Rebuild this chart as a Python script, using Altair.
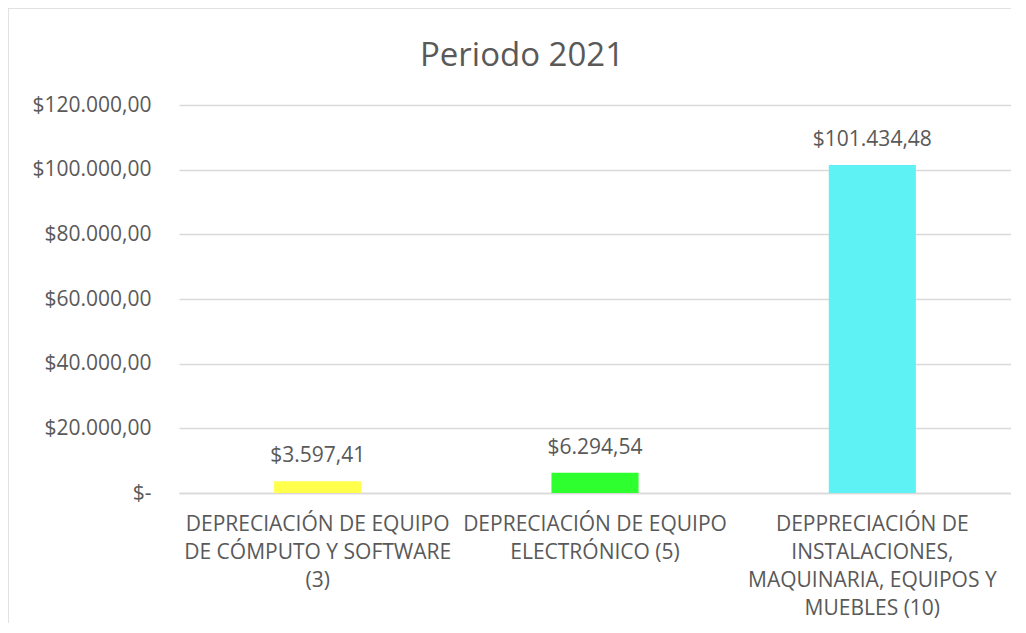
import altair as alt
import pandas as pd

categories = [
    "DEPRECIACIÓN DE EQUIPO|DE CÓMPUTO Y SOFTWARE|(3)",
    "DEPRECIACIÓN DE EQUIPO|ELECTRÓNICO (5)",
    "DEPPRECIACIÓN DE|INSTALACIONES,|MAQUINARIA, EQUIPOS Y|MUEBLES (10)",
]
values = [3597.41, 6294.54, 101434.48]
colors = ["#FFFF4C", "#2EFF2E", "#5EF2F5"]
y_ticks = [0, 20000, 40000, 60000, 80000, 100000, 120000]

FONT = "'Open Sans', sans-serif"
TXT = "#595959"

df = pd.DataFrame({"cat": categories, "value": values, "color": colors})

fmt = "'$' + replace(replace(replace(format({v}, ',.2f'), ',', '_'), '.', ','), '_', '.')"

base = alt.Chart(df).transform_calculate(
    label=fmt.format(v="datum.value")
)

x_enc = alt.X(
    "cat:N",
    sort=categories,
    title=None,
    scale=alt.Scale(paddingInner=0.686, paddingOuter=0.343),
    axis=alt.Axis(
        labelExpr="split(datum.label, '|')",
        labelAngle=0,
        labelFont=FONT,
        labelFontSize=21,
        labelColor=TXT,
        labelLineHeight=28,
        labelPadding=20,
        labelBaseline="top",
        labelLimit=400,
        ticks=False,
        domainColor="#D9D9D9",
        domainWidth=1.5,
        grid=False,
    ),
)

y_enc = alt.Y(
    "value:Q",
    title=None,
    scale=alt.Scale(domain=[0, 120000], nice=False),
    axis=alt.Axis(
        values=y_ticks,
        labelExpr="datum.value == 0 ? '$-' : " + fmt.format(v="datum.value"),
        labelFont=FONT,
        labelFontSize=21,
        labelColor=TXT,
        labelPadding=28,
        ticks=False,
        domain=False,
        grid=True,
        gridColor="#D9D9D9",
        gridWidth=1.5,
    ),
)

bars = base.mark_bar().encode(
    x=x_enc,
    y=y_enc,
    color=alt.Color("color:N", scale=None, legend=None),
)

text = base.mark_text(
    font=FONT, fontSize=21, color=TXT, baseline="alphabetic", dy=-19
).encode(
    x=alt.X("cat:N", sort=categories),
    y="value:Q",
    text="label:N",
)

border = alt.Chart(pd.DataFrame({"a": [0]})).mark_rect(
    fillOpacity=0, stroke="#D9D9D9", strokeWidth=1.5
).encode(
    x=alt.value(-171), x2=alt.value(880), y=alt.value(-97), y2=alt.value(580)
)

chart = alt.layer(border, bars, text).properties(
    width=832,
    height=388,
    padding={"left": 171, "top": 97, "right": 0, "bottom": 130},
    autosize=alt.AutoSizeParams(type="none"),
    title=alt.TitleParams(
        "Periodo 2021",
        font=FONT,
        fontSize=33,
        fontWeight="normal",
        color=TXT,
        anchor="middle",
        baseline="alphabetic",
        dx=-73,
        offset=-92,
    ),
).configure_view(stroke=None)

chart.save("out.html", embed_options={"renderer": "svg", "actions": False})
